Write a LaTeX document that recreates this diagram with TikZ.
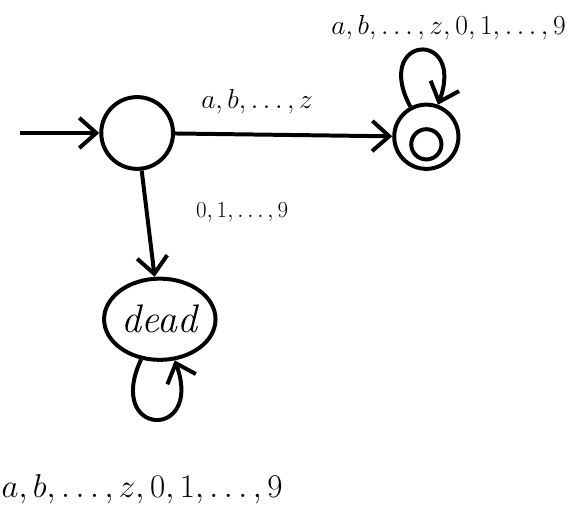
\documentclass[tikz,border=0pt]{standalone}
\usepackage{tikz}
\usetikzlibrary{shapes.geometric, arrows.meta, positioning, calc}
\usepackage{amsmath}
\tikzset{
    state/.style={circle, draw, line width=3pt, minimum size=1.9cm},
    accepting state/.style={circle, draw, line width=3pt, minimum size=1.7cm,
        path picture={\draw[line width=3pt] ($(path picture bounding box.center)+(0,-0.2)$) circle (0.4cm);}},
    dead state/.style={ellipse, draw, line width=3pt, minimum width=2.95cm, minimum height=2.15cm, inner sep=0pt, align=center, font=\fontsize{30}{34}\selectfont\itshape},
    transition/.style={line width=3pt, -{Straight Barb[length=4.5mm, width=8mm]}},
    symbols/.style={font=\huge},
    big symbols/.style={font=\fontsize{#1}{28}\selectfont}
}
\begin{document}
\begin{tikzpicture}[node distance=2.8cm]
    \useasboundingbox (-3.63,-10.24) rectangle (11.67,3.52);
    \node[state] (start) {};
    \node[accepting state, right=5.75cm of start, yshift=-0.1cm] (accept) {};
    \node[dead state, below=of start, xshift=0.6cm] (dead) {dead};
    \coordinate[left=2.1cm of start] (init);

    \draw[transition] (init) -- (start);
    \draw[transition] (start) -- node[symbols, above=0.4cm, xshift=-0.7cm] (letters) {$a, b, \ldots, z$} (accept);
    \draw[transition] (start) -- node[font=\LARGE, right=1.1cm, yshift=0.3cm] (digits) {$0, 1, \ldots, 9$} (dead);
    \draw[transition] (accept) to[out=118, in=70, looseness=7.5] node[big symbols=21.5, above, xshift=0.75cm, yshift=0.1cm] (acceptall) {$a, b, \ldots, z, 0, 1, \ldots, 9$} (accept);
    \draw[transition] (dead) to[out=245, in=290, looseness=6.5] node[big symbols=24, below=1.3cm, xshift=-0.35cm] (deadall) {$a, b, \ldots, z, 0, 1, \ldots, 9$} (dead);
\end{tikzpicture}
\end{document}
